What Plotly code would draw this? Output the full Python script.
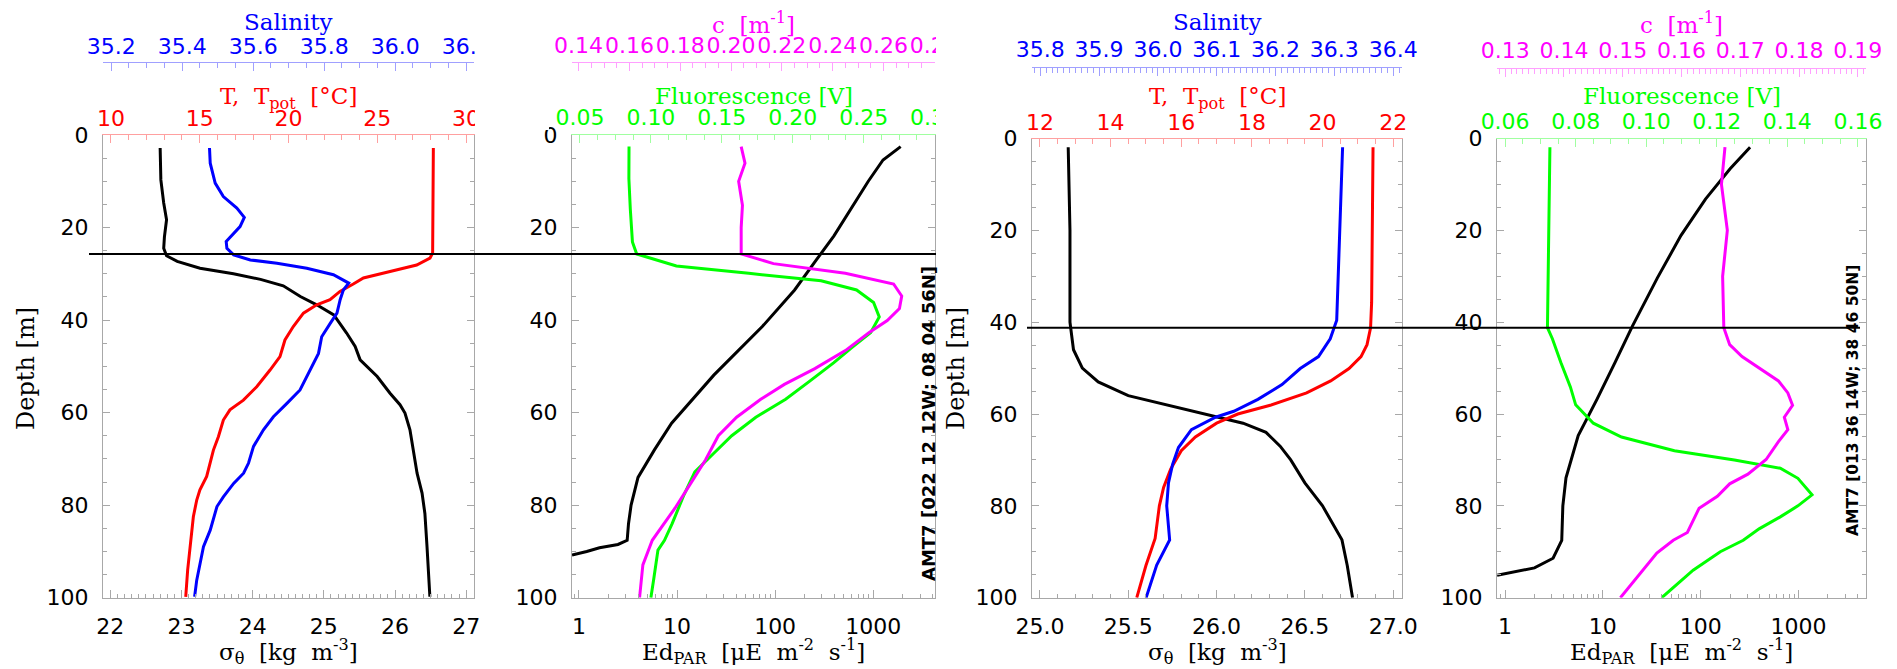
import plotly.graph_objects as go

# ---------------- DATA ----------------
# Station 1 (AMT7 [022 12 12W; 08 04 56N])
st1_label = "AMT7 [022 12 12W; 08 04 56N]"
st1_mld = 25.7
st1_sig_depth = [2.8, 9.7, 14.7, 18.3, 22.0, 24.5, 26.1, 27.3, 28.8, 30.0, 31.2, 32.6, 34.9, 36.7, 38.9, 42.8,
                 45.7, 48.6, 52.2, 55.8, 58.3, 60.1, 63.7, 68.1, 73.1, 77.4, 81.8, 89.0, 94.0, 99.8]
st1_sigma = [22.70, 22.71, 22.75, 22.79, 22.76, 22.75, 22.79, 22.94, 23.26, 23.73, 24.11, 24.43, 24.67, 24.90,
             25.14, 25.32, 25.44, 25.51, 25.75, 25.93, 26.07, 26.14, 26.21, 26.26, 26.31, 26.38, 26.42, 26.45,
             26.47, 26.49]
st1_t_depth = [2.8, 13.3, 20.5, 25.5, 26.6, 28.1, 29.5, 30.9, 32.2, 33.8, 35.6, 36.7, 38.5, 41.4, 44.3, 47.9,
               50.8, 54.4, 57.3, 59.4, 61.6, 65.2, 68.1, 70.9, 73.8, 76.7, 78.9, 82.5, 89.0, 94.0, 99.8]
st1_temp = [28.16, 28.16, 28.12, 28.12, 27.97, 27.22, 25.72, 24.22, 23.65, 22.90, 22.34, 21.59, 20.84, 20.27,
            19.80, 19.52, 18.96, 18.21, 17.46, 16.70, 16.33, 16.05, 15.77, 15.58, 15.39, 15.01, 14.83, 14.64,
            14.45, 14.32, 14.21]
st1_s_depth = [2.8, 6.1, 10.4, 13.3, 15.8, 17.8, 19.8, 21.6, 23.0, 24.5, 25.9, 27.0, 27.7, 28.8, 30.2, 32.0,
               33.5, 35.6, 38.5, 40.7, 43.6, 47.2, 50.8, 55.1, 58.0, 60.9, 63.7, 67.3, 70.9, 73.1, 75.3, 78.2,
               80.3, 85.4, 89.0, 92.6, 96.2, 99.8]
st1_sal = [35.477, 35.479, 35.493, 35.516, 35.554, 35.575, 35.563, 35.540, 35.524, 35.526, 35.545, 35.592,
           35.667, 35.751, 35.826, 35.869, 35.854, 35.845, 35.836, 35.817, 35.793, 35.784, 35.761, 35.732,
           35.695, 35.657, 35.629, 35.601, 35.587, 35.573, 35.545, 35.516, 35.498, 35.479, 35.460, 35.451,
           35.441, 35.435]
st1_f_depth = [2.5, 9.4, 16.0, 23.1, 25.7, 28.3, 29.9, 31.5, 33.5, 36.2, 39.3, 42.7, 46.1, 49.2, 53.2, 57.1,
               61.0, 65.0, 68.9, 72.8, 78.0, 84.0, 87.6, 89.7, 96.0, 100.0]
st1_fluor = [0.0846, 0.0845, 0.0855, 0.087, 0.090, 0.118, 0.169, 0.220, 0.245, 0.257, 0.261, 0.255, 0.241,
             0.229, 0.212, 0.195, 0.174, 0.157, 0.144, 0.131, 0.123, 0.115, 0.1096, 0.105, 0.102, 0.100]
st1_c_depth = [2.5, 6.1, 10.0, 15.2, 20.0, 25.7, 27.8, 29.9, 32.2, 34.8, 37.5, 40.1, 42.7, 46.6, 50.5, 53.9,
               57.1, 61.0, 65.0, 70.2, 75.4, 80.6, 87.6, 92.9, 100.0]
st1_c = [0.204, 0.2055, 0.203, 0.2045, 0.204, 0.204, 0.2167, 0.245, 0.264, 0.2672, 0.2663, 0.2615, 0.2544,
         0.245, 0.233, 0.221, 0.2117, 0.2022, 0.195, 0.190, 0.184, 0.178, 0.169, 0.1653, 0.164]
st1_ed_depth = [2.5, 5.4, 10.0, 15.0, 21.8, 27.0, 33.5, 41.4, 51.9, 62.3, 68.0, 74.0, 80.0, 84.0, 87.6, 88.5,
                89.2, 90.0, 90.8]
st1_ed = [1905, 1259, 891, 631, 398, 263, 158, 74, 23.7, 8.8, 5.9, 4.0, 3.4, 3.2, 3.1, 2.5, 1.62, 1.2, 0.85]

# Station 2 (AMT7 [013 36 14W; 38 46 50N])
st2_label = "AMT7 [013 36 14W; 38 46 50N]"
st2_mld = 41.2
st2_sig_depth = [1.9, 20, 40, 46, 50, 53, 56, 58, 60.7, 62, 64, 67, 70, 75, 80, 87.4, 93, 100]
st2_sigma = [25.16, 25.17, 25.17, 25.19, 25.24, 25.33, 25.50, 25.72, 26.00, 26.15, 26.28, 26.36, 26.42,
             26.50, 26.60, 26.71, 26.74, 26.77]
st2_t_depth = [1.9, 35.7, 41.2, 44.9, 47.5, 50.1, 52.8, 55.4, 58.1, 60.0, 62.0, 65.0, 68.0, 72.0, 76.0, 80.0,
               87.1, 93.0, 100.0]
st2_temp = [21.43, 21.39, 21.36, 21.26, 21.09, 20.75, 20.23, 19.55, 18.52, 17.60, 17.00, 16.40, 16.00, 15.70,
            15.50, 15.38, 15.26, 15.00, 14.74]
st2_s_depth = [1.9, 39.6, 43.6, 47.5, 50.1, 53.6, 56.8, 59.4, 60.7, 63.4, 67.3, 71.0, 75.0, 80.0, 87.4, 90.0,
               92.9, 100.0]
st2_sal = [36.314, 36.304, 36.293, 36.273, 36.242, 36.211, 36.170, 36.129, 36.098, 36.057, 36.035, 36.025,
           36.018, 36.015, 36.020, 36.010, 35.998, 35.980]
st2_f_depth = [1.9, 22.5, 41.2, 43.6, 48.8, 54.1, 58.0, 62.0, 65.0, 68.0, 70.0, 71.8, 74.0, 77.6, 80.0, 82.4,
               85.0, 87.5, 90.0, 94.0, 100.0]
st2_fluor = [0.0727, 0.0723, 0.0720, 0.0734, 0.0758, 0.0785, 0.080, 0.085, 0.093, 0.108, 0.125, 0.138, 0.143,
             0.147, 0.143, 0.138, 0.132, 0.1275, 0.121, 0.1133, 0.1044]
st2_c_depth = [1.9, 10, 20, 30, 41.2, 44.9, 47.5, 50.2, 52.8, 55.4, 58.1, 60.7, 63.4, 66.0, 69.9, 73.1, 75.2,
               77.9, 80.5, 85.8, 87.5, 90.3, 100.0]
st2_c = [0.1674, 0.1668, 0.1678, 0.1670, 0.1672, 0.1682, 0.1703, 0.1734, 0.1765, 0.1781, 0.1789, 0.1775,
         0.1781, 0.1765, 0.1744, 0.1713, 0.1682, 0.1661, 0.1630, 0.1610, 0.1586, 0.1558, 0.1496]
st2_ed_depth = [1.9, 6.6, 13.2, 21.1, 30.4, 40.9, 48.8, 56.8, 64.7, 73.9, 80.0, 87.5, 91.4, 93.5, 95.1]
st2_ed = [320, 200, 112, 63, 36, 20, 13.3, 8.7, 5.6, 4.2, 3.9, 3.8, 3.1, 2.0, 0.83]

depth_ticks = [0, 20, 40, 60, 80, 100]
ed_ticks = [1, 10, 100, 1000]

# ---------------- LAYOUT HELPERS ----------------
W, H = 1897, 669
def px(x):
    return x / W
def py(y):
    return 1 - y / H

GREY = "#a8a8a8"
TICKFONT = "DejaVu Sans"
TITLEFONT = "DejaVu Serif"
FS = 22
BLUE, RED, BLACK, MAG, GREEN = "#0000ff", "#ff0000", "#000000", "#ff00ff", "#00ff00"
PALE = {BLUE: "#a0a0ff", RED: "#ffa0a0", MAG: "#ffa0ff", GREEN: "#a0ffa0"}

fig = go.Figure()
layout = dict(width=W, height=H, margin=dict(l=0, r=0, t=0, b=0, autoexpand=False),
              paper_bgcolor="white", plot_bgcolor="white", showlegend=False)


def bottom_axis(dom, anchor, rng, dtick, minor, log=False, fmt=None):
    ax = dict(domain=[px(dom[0]), px(dom[1])], range=rng, side="bottom", anchor=anchor, showline=True,
              linecolor=GREY, linewidth=1, ticks="inside", ticklen=8, tickcolor=GREY, showgrid=False,
              zeroline=False, tickangle=0, automargin=False,
              tickfont=dict(family=TICKFONT, size=FS, color=BLACK), ticklabelstandoff=9)
    if log:
        ax.update(type="log", tickvals=ed_ticks, ticktext=[str(v) for v in ed_ticks],
                  minor=dict(ticks="inside", ticklen=4, tickcolor=GREY, dtick="D1", showgrid=False))
    else:
        ax.update(dtick=dtick, tick0=0, minor=dict(ticks="inside", ticklen=4, tickcolor=GREY,
                                                   dtick=minor, showgrid=False))
    if fmt:
        ax["tickformat"] = fmt
    return ax


def top_axis(over, anchor, rng, dtick, minor, color, fmt, standoff, position=None):
    ax = dict(overlaying=over, side="top", range=rng, showline=True, linecolor=PALE[color], linewidth=1,
              ticks="inside", ticklen=8, tickcolor=PALE[color], showgrid=False, zeroline=False,
              dtick=dtick, tick0=0, tickformat=fmt, tickangle=0, automargin=False,
              minor=dict(ticks="inside", ticklen=5, tickcolor=PALE[color], dtick=minor, showgrid=False),
              tickfont=dict(family=TICKFONT, size=FS, color=color), ticklabelstandoff=standoff)
    if position is None:
        ax["anchor"] = anchor
    else:
        ax["anchor"] = "free"
        ax["position"] = position
    return ax


def depth_axis(anchor, top, bottom):
    return dict(domain=[py(bottom), py(top)], range=[100, 0], anchor=anchor, showline=True, mirror="ticks",
                linecolor=GREY, linewidth=1, ticks="inside", ticklen=7, tickcolor=GREY,
                tickvals=depth_ticks, showgrid=False, zeroline=False, automargin=False,
                minor=dict(ticks="inside", ticklen=4, tickcolor=GREY, dtick=5, showgrid=False),
                tickfont=dict(family=TICKFONT, size=FS, color=BLACK), ticklabelstandoff=9)


# Panel boxes (pixels): left, right, top, bottom
P = [(103, 474, 135, 597.7), (572, 935, 135, 597.7), (1032, 1402, 138.5, 597.7), (1497, 1866, 138.5, 597.7)]

# Panel 1
layout["xaxis"] = bottom_axis(P[0][:2], "y", [21.897, 27.11], 1, 0.1)
layout["xaxis2"] = top_axis("x", "y", [9.55, 30.45], 5, 1, RED, "d", -1)
layout["xaxis3"] = top_axis("x", "y", [35.177, 36.222], 0.2, 0.05, BLUE, ".1f", -1, position=py(62))
layout["yaxis"] = depth_axis("x", P[0][2], P[0][3])
# Panel 2
layout["xaxis4"] = bottom_axis(P[1][:2], "y2", [-0.071, 3.63], None, None, log=True)
layout["xaxis5"] = top_axis("x4", "y2", [0.0444, 0.3003], 0.05, 0.0125, GREEN, ".2f", 0)
layout["xaxis6"] = top_axis("x4", "y2", [0.1374, 0.2803], 0.02, 0.005, MAG, ".2f", 0, position=py(62))
layout["yaxis2"] = depth_axis("x4", P[1][2], P[1][3])
# Panel 3
layout["xaxis7"] = bottom_axis(P[2][:2], "y3", [24.955, 27.05], 0.5, 0.1, fmt=".1f")
layout["xaxis8"] = top_axis("x7", "y3", [11.774, 22.25], 2, 0.5, RED, "d", -1)
layout["xaxis9"] = top_axis("x7", "y3", [35.786, 36.415], 0.1, 0.01, BLUE, ".1f", 1, position=py(67))
layout["yaxis3"] = depth_axis("x7", P[2][2], P[2][3])
# Panel 4
layout["xaxis10"] = bottom_axis(P[3][:2], "y4", [-0.082, 3.69], None, None, log=True)
layout["xaxis11"] = top_axis("x10", "y4", [0.0577, 0.1623], 0.02, 0.005, GREEN, ".2f", 0)
layout["xaxis12"] = top_axis("x10", "y4", [0.1286, 0.1914], 0.01, 0.001, MAG, ".2f", 1, position=py(68))
layout["yaxis4"] = depth_axis("x10", P[3][2], P[3][3])


def line(x, y, xa, ya, color):
    fig.add_trace(go.Scatter(x=x, y=y, xaxis=xa, yaxis=ya, mode="lines",
                             line=dict(color=color, width=3), hoverinfo="skip"))


line(st1_sigma, st1_sig_depth, "x", "y", BLACK)
line(st1_temp, st1_t_depth, "x2", "y", RED)
line(st1_sal, st1_s_depth, "x3", "y", BLUE)
line(st1_ed, st1_ed_depth, "x4", "y2", BLACK)
line(st1_fluor, st1_f_depth, "x5", "y2", GREEN)
line(st1_c, st1_c_depth, "x6", "y2", MAG)
line(st2_sigma, st2_sig_depth, "x7", "y3", BLACK)
line(st2_temp, st2_t_depth, "x8", "y3", RED)
line(st2_sal, st2_s_depth, "x9", "y3", BLUE)
line(st2_ed, st2_ed_depth, "x10", "y4", BLACK)
line(st2_fluor, st2_f_depth, "x11", "y4", GREEN)
line(st2_c, st2_c_depth, "x12", "y4", MAG)

shapes = [
    # clip the overflowing top tick labels as in the original
    dict(type="rect", xref="paper", yref="paper", x0=px(475), x1=px(549), y0=py(130), y1=1,
         fillcolor="white", line=dict(width=0), layer="above"),
    dict(type="rect", xref="paper", yref="paper", x0=px(936), x1=px(1008), y0=py(130), y1=1,
         fillcolor="white", line=dict(width=0), layer="above"),
    # mixed-layer depth lines
    dict(type="line", xref="paper", yref="y", x0=px(89), x1=px(936), y0=st1_mld, y1=st1_mld,
         line=dict(color=BLACK, width=2), layer="above"),
    dict(type="line", xref="paper", yref="y3", x0=px(1027), x1=px(1860), y0=st2_mld, y1=st2_mld,
         line=dict(color=BLACK, width=2), layer="above"),
]
layout["shapes"] = shapes


def ann(text, x, y, color, size=23, family=TITLEFONT, angle=0):
    return dict(text=text, x=px(x), y=py(y), xref="paper", yref="paper", showarrow=False,
                xanchor="center", yanchor="middle", textangle=angle,
                font=dict(family=family, size=size, color=color))


anns = []
for i, (l, r, t, b) in enumerate(P):
    cx = (l + r) / 2
    if i in (0, 2):
        anns.append(ann("Salinity", cx, 22, BLUE))
        anns.append(ann("T,  T<sub>pot</sub>  [°C]", cx, 98, RED))
        anns.append(ann("σ<sub>θ</sub>  [kg  m<sup>-3</sup>]", cx, 651, BLACK))
        anns.append(ann("Depth [m]", 26 if i == 0 else 956, 369, BLACK, size=24, angle=-90))
    else:
        anns.append(ann("c  [m<sup>-1</sup>]", cx, 23, MAG))
        anns.append(ann("Fluorescence [V]", cx, 96, GREEN))
        anns.append(ann("Ed<sub>PAR</sub>  [μE  m<sup>-2</sup>  s<sup>-1</sup>]", cx, 651, BLACK))
anns.append(ann("<b>" + st1_label + "</b>", 928, 424, BLACK, size=18, family="DejaVu Sans", angle=-90))
anns.append(ann("<b>" + st2_label + "</b>", 1853, 401, BLACK, size=15.5, family="DejaVu Sans", angle=-90))
layout["annotations"] = anns

fig.update_layout(**layout)
fig.write_html("out.html")
